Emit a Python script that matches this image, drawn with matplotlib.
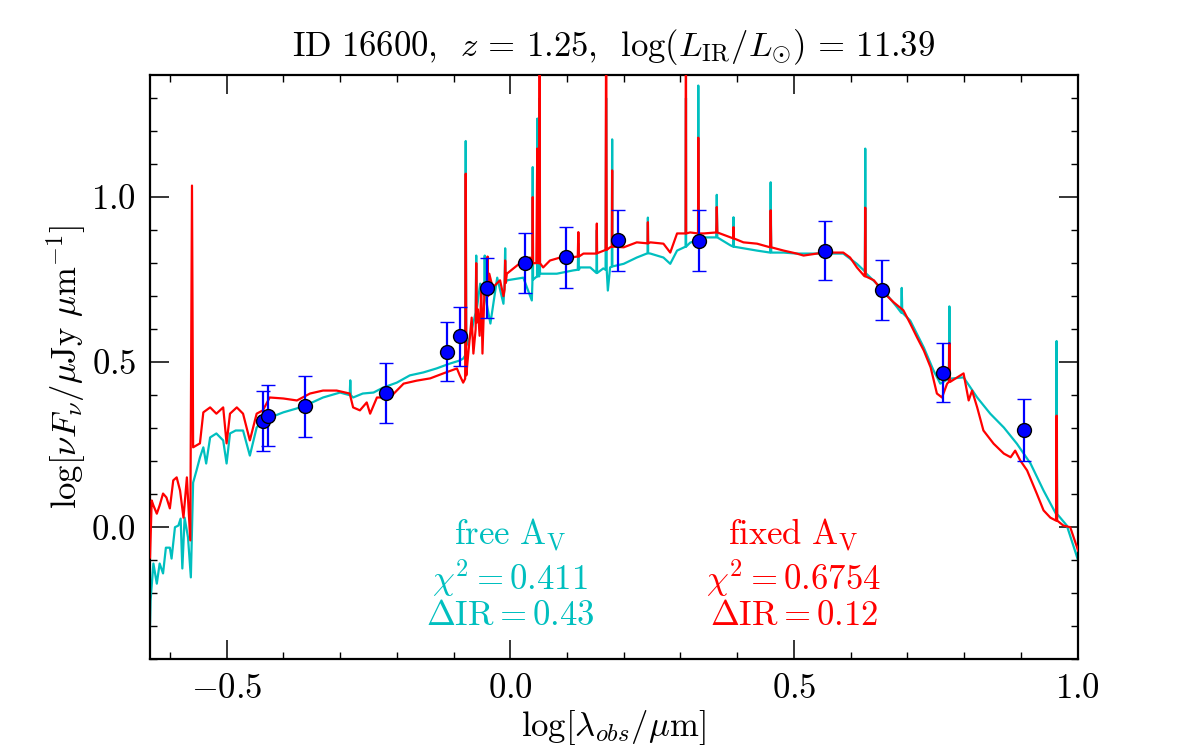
import matplotlib
matplotlib.use('Agg')
import matplotlib.pyplot as plt
from matplotlib.ticker import MultipleLocator, FuncFormatter

plt.rcParams['mathtext.fontset'] = 'cm'
plt.rcParams['font.family'] = 'serif'
plt.rcParams['font.serif'] = ['cmr10', 'DejaVu Serif']
plt.rcParams['axes.unicode_minus'] = False

# photometry
phot_x = [-0.4355, -0.4277, -0.362, -0.219, -0.112, -0.0885, -0.0404, 0.026,
          0.0984, 0.1906, 0.3335, 0.555, 0.655, 0.7628, 0.905]
phot_y = [0.323, 0.338, 0.366, 0.407, 0.532, 0.578, 0.725, 0.801,
          0.818, 0.869, 0.868, 0.838, 0.719, 0.468, 0.295]
phot_err = [0.091, 0.092, 0.092, 0.092, 0.09, 0.09, 0.09, 0.09,
            0.092, 0.092, 0.092, 0.09, 0.09, 0.09, 0.093]

# free A_V model (cyan)
free_x = [-0.635, -0.634, -0.629, -0.623, -0.618, -0.612, -0.607, -0.600, -0.597,
          -0.591, -0.585, -0.581, -0.578, -0.574, -0.568, -0.563, -0.559, -0.553,
          -0.547, -0.541, -0.536, -0.529, -0.518, -0.506, -0.500, -0.494, -0.484,
          -0.471, -0.459, -0.447, -0.436, -0.424, -0.400, -0.376, -0.353, -0.330,
          -0.306, -0.300, -0.283, -0.282, -0.281, -0.277, -0.260, -0.241, -0.224,
          -0.200, -0.177, -0.153, -0.130, -0.106, -0.089, -0.083,
          -0.0795, -0.0785, -0.0775, -0.071, -0.061, -0.060, -0.059, -0.053,
          -0.046, -0.045, -0.044, -0.035, -0.023, -0.012, -0.010, -0.009, -0.008,
          -0.006, 0.023, 0.038, 0.039, 0.0396, 0.0402, 0.0472, 0.0478, 0.0484,
          0.0512, 0.0518, 0.0524, 0.053, 0.082, 0.111, 0.119, 0.120, 0.121,
          0.123, 0.141, 0.152, 0.1526, 0.153, 0.164, 0.168, 0.169, 0.170, 0.172,
          0.176, 0.179, 0.1796, 0.180, 0.200, 0.223, 0.242, 0.2426, 0.243, 0.247,
          0.270, 0.282, 0.294, 0.309, 0.3097, 0.310, 0.317, 0.331, 0.3314, 0.332,
          0.341, 0.363, 0.364, 0.365, 0.388, 0.393, 0.3935, 0.394, 0.411, 0.435,
          0.458, 0.459, 0.460, 0.482, 0.505, 0.540, 0.587, 0.611, 0.625, 0.6257,
          0.6265, 0.635, 0.658, 0.682, 0.689, 0.690, 0.691, 0.705, 0.729, 0.746,
          0.758, 0.773, 0.774, 0.775, 0.799, 0.823, 0.846, 0.870, 0.893, 0.917,
          0.940, 0.962, 0.963, 0.964, 0.981, 1.001]
free_y = [-0.30, -0.222, -0.110, -0.171, -0.110, -0.140, -0.062, -0.062, -0.095,
          0.000, 0.005, 0.026, -0.125, 0.029, -0.031, -0.152, 0.135, 0.172,
          0.211, 0.242, 0.193, 0.272, 0.284, 0.263, 0.193, 0.284, 0.293,
          0.293, 0.217, 0.302, 0.323, 0.332, 0.348, 0.360, 0.375, 0.393,
          0.405, 0.408, 0.400, 0.445, 0.400, 0.393, 0.405, 0.408, 0.423,
          0.438, 0.460, 0.469, 0.481, 0.496, 0.505, 0.511,
          0.52, 1.17, 0.55, 0.575, 0.65, 0.823, 0.66, 0.738,
          0.70, 0.823, 0.70, 0.617, 0.756, 0.677, 0.74, 0.845, 0.74,
          0.748, 0.756, 0.687, 0.74, 1.091, 0.75, 0.76, 1.238, 0.76,
          0.76, 1.30, 0.77, 0.768, 0.768, 0.778, 0.78, 0.86, 0.78,
          0.787, 0.787, 0.770, 0.90, 0.77, 0.784, 0.78, 1.30, 0.78, 0.717,
          0.787, 0.79, 1.175, 0.79, 0.798, 0.817, 0.83, 0.938, 0.83, 0.829,
          0.817, 0.798, 0.838, 0.85, 1.30, 0.85, 0.862, 0.87, 1.338, 0.87,
          0.878, 0.878, 1.007, 0.878, 0.854, 0.85, 0.939, 0.85, 0.845, 0.838,
          0.832, 1.045, 0.832, 0.832, 0.829, 0.829, 0.829, 0.798, 0.775, 1.147,
          0.77, 0.756, 0.717, 0.666, 0.65, 0.725, 0.65, 0.626, 0.544, 0.475,
          0.435, 0.45, 0.669, 0.45, 0.454, 0.393, 0.344, 0.302, 0.253, 0.193,
          0.111, 0.04, 0.564, 0.04, 0.005, -0.101]

# fixed A_V model (red)
fixed_x = [-0.635, -0.632, -0.629, -0.623, -0.618, -0.612, -0.606, -0.600, -0.594,
           -0.588, -0.582, -0.576, -0.570, -0.564, -0.561, -0.559, -0.547, -0.541,
           -0.529, -0.518, -0.506, -0.500, -0.494, -0.482, -0.471, -0.459, -0.447,
           -0.436, -0.424, -0.400, -0.376, -0.353, -0.330, -0.306, -0.283, -0.277,
           -0.265, -0.253, -0.247, -0.235, -0.212, -0.200, -0.188, -0.165, -0.141,
           -0.118, -0.094, -0.089, -0.083, -0.0795, -0.0785, -0.0775, -0.074,
           -0.068, -0.065, -0.061, -0.060, -0.059, -0.057, -0.054, -0.051, -0.049,
           -0.045, -0.041, -0.040, -0.039, -0.037, -0.031, -0.018, -0.012, -0.010,
           -0.009, -0.008, -0.006, 0.012, 0.023, 0.035, 0.039, 0.0396, 0.0402,
           0.046, 0.0476, 0.049, 0.0512, 0.0518, 0.0524, 0.058, 0.070, 0.088,
           0.105, 0.119, 0.120, 0.121, 0.129, 0.152, 0.1526, 0.153, 0.168, 0.169,
           0.170, 0.176, 0.179, 0.1796, 0.180, 0.200, 0.223, 0.242, 0.2426, 0.243,
           0.247, 0.270, 0.282, 0.294, 0.309, 0.3097, 0.310, 0.317, 0.331, 0.3314,
           0.332, 0.341, 0.363, 0.364, 0.365, 0.388, 0.393, 0.3935, 0.394, 0.411,
           0.435, 0.458, 0.459, 0.460, 0.482, 0.505, 0.517, 0.552, 0.587, 0.599,
           0.611, 0.623, 0.625, 0.6257, 0.6265, 0.641, 0.658, 0.676, 0.693, 0.705,
           0.717, 0.729, 0.741, 0.752, 0.761, 0.770, 0.773, 0.774, 0.775, 0.788,
           0.799, 0.808, 0.814, 0.823, 0.834, 0.852, 0.870, 0.882, 0.890, 0.899,
           0.911, 0.928, 0.940, 0.952, 0.962, 0.963, 0.964, 0.975, 0.987, 1.001]
fixed_y = [-0.092, 0.081, 0.066, 0.041, 0.066, 0.102, 0.090, 0.057, 0.142,
           0.151, 0.111, 0.029, 0.151, -0.040, 1.035, 0.242, 0.254, 0.348,
           0.363, 0.344, 0.363, 0.254, 0.344, 0.363, 0.344, 0.263, 0.344,
           0.354, 0.393, 0.390, 0.384, 0.405, 0.414, 0.414, 0.405, 0.363,
           0.354, 0.378, 0.344, 0.393, 0.393, 0.414, 0.435, 0.444, 0.451,
           0.466, 0.481, 0.460, 0.438, 0.45, 1.071, 0.46, 0.526,
           0.635, 0.526, 0.60, 0.80, 0.62, 0.66, 0.58, 0.72, 0.526,
           0.74, 0.70, 0.82, 0.70, 0.768, 0.726, 0.748, 0.700, 0.72,
           0.808, 0.74, 0.768, 0.793, 0.808, 0.817, 0.80, 1.0, 0.80,
           0.80, 1.147, 0.80, 0.80, 1.60, 0.80, 0.787, 0.808, 0.817,
           0.817, 0.82, 0.894, 0.82, 0.829, 0.829, 0.92, 0.83, 0.84, 1.60,
           0.84, 0.848, 0.85, 1.081, 0.85, 0.848, 0.863, 0.86, 0.924, 0.86,
           0.863, 0.859, 0.832, 0.890, 0.89, 1.60, 0.89, 0.893, 0.89, 1.18,
           0.89, 0.890, 0.893, 0.97, 0.893, 0.878, 0.875, 0.909, 0.875, 0.863,
           0.859, 0.848, 0.96, 0.848, 0.838, 0.829, 0.823, 0.832, 0.832, 0.817,
           0.787, 0.763, 0.76, 0.968, 0.76, 0.748, 0.711, 0.681, 0.657, 0.617,
           0.575, 0.535, 0.484, 0.405, 0.393, 0.435, 0.44, 0.558, 0.44, 0.454,
           0.466, 0.384, 0.414, 0.363, 0.293, 0.253, 0.223, 0.212, 0.232, 0.202,
           0.172, 0.102, 0.051, 0.029, 0.02, 0.338, 0.02, 0.005, 0.000, -0.071]

FS = 25

fig = plt.figure(figsize=(12, 7.5), dpi=100)
ax = fig.add_axes([0.125, 0.121, 0.773, 0.779])

ax.plot(free_x, free_y, color='c', lw=1.6, zorder=2)
ax.plot(fixed_x, fixed_y, color='r', lw=1.6, zorder=3)
ax.errorbar(phot_x, phot_y, yerr=phot_err, fmt='o', color='b', ms=10,
            mfc='b', mec='k', mew=1.0, ecolor='b', elinewidth=1.6,
            capsize=5, capthick=1.2, zorder=4)

ax.set_xlim(-0.635, 1.0)
ax.set_ylim(-0.40, 1.37)

ax.xaxis.set_major_locator(MultipleLocator(0.5))
ax.xaxis.set_minor_locator(MultipleLocator(0.1))
ax.yaxis.set_major_locator(MultipleLocator(0.5))
ax.yaxis.set_minor_locator(MultipleLocator(0.1))
fmt = FuncFormatter(lambda v, p: r'$%.1f$' % v)
ax.xaxis.set_major_formatter(fmt)
ax.yaxis.set_major_formatter(fmt)
ax.tick_params(which='both', direction='in', top=True, right=True, labelsize=FS)
ax.tick_params(which='major', length=14, width=1.1, pad=10)
ax.tick_params(which='minor', length=5, width=1.0)
for s in ax.spines.values():
    s.set_linewidth(1.6)

ax.set_xlabel(r'$\log[\lambda_{obs}/\mu\mathrm{m}]$', fontsize=FS, labelpad=2)
ax.set_ylabel(r'$\log[\nu F_\nu/\mu\mathrm{Jy}\ \mu\mathrm{m}^{-1}]$', fontsize=FS, labelpad=2)
ax.set_title(r'$\mathrm{ID\ 16600,}\;\;z\,=\,1.25,\;\;\log(L_{\mathrm{IR}}/L_{\odot})\,=\,11.39$',
             fontsize=FS, pad=14)

ax.text(0.388, 0.194, r'$\mathrm{free\ A_V}$', color='c', fontsize=FS,
        ha='center', va='baseline', transform=ax.transAxes)
ax.text(0.388, 0.119, r'$\chi^2=0.411$', color='c', fontsize=FS,
        ha='center', va='baseline', transform=ax.transAxes)
ax.text(0.388, 0.059, r'$\Delta\mathrm{IR}=0.43$', color='c', fontsize=FS,
        ha='center', va='baseline', transform=ax.transAxes)
ax.text(0.694, 0.194, r'$\mathrm{fixed\ A_V}$', color='r', fontsize=FS,
        ha='center', va='baseline', transform=ax.transAxes)
ax.text(0.694, 0.119, r'$\chi^2=0.6754$', color='r', fontsize=FS,
        ha='center', va='baseline', transform=ax.transAxes)
ax.text(0.694, 0.059, r'$\Delta\mathrm{IR}=0.12$', color='r', fontsize=FS,
        ha='center', va='baseline', transform=ax.transAxes)

fig.savefig('out.png', dpi=100)
